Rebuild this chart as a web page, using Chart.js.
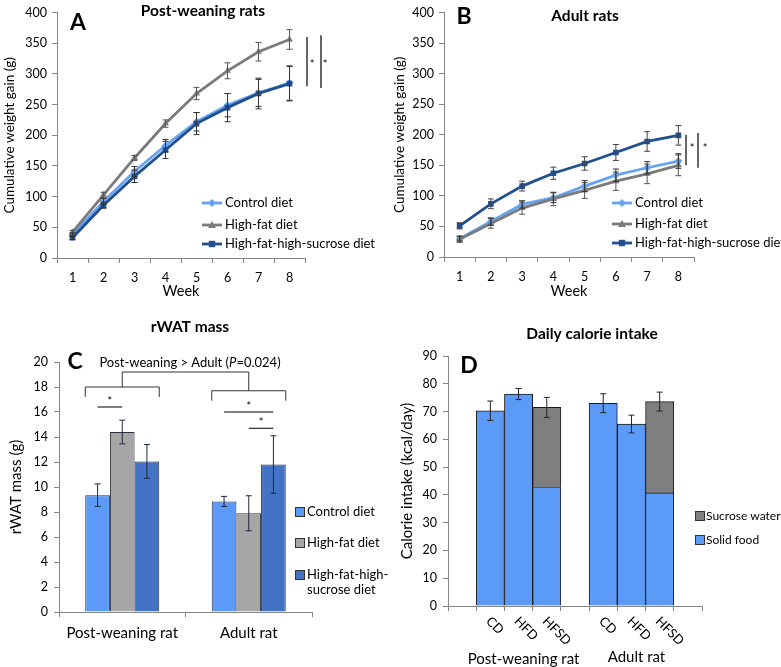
<!DOCTYPE html>
<html><head><meta charset="utf-8">
<script src="https://cdn.jsdelivr.net/npm/chart.js@4.4.1/dist/chart.umd.min.js"></script>
<style>
body{margin:0;background:#fff;}
#wrap{position:relative;width:781px;height:667px;background:#fff;overflow:hidden;}
canvas{position:absolute;}
</style></head><body>
<div id="wrap">
<canvas id="cA" width="390" height="300" style="left:0;top:0"></canvas>
<canvas id="cB" width="391" height="300" style="left:390px;top:0"></canvas>
<canvas id="cC" width="390" height="367" style="left:0;top:300px"></canvas>
<canvas id="cD" width="391" height="367" style="left:390px;top:300px"></canvas>
</div>
<script>
// ---------- DATA ----------
const weeks = ['1','2','3','4','5','6','7','8'];
const dietNames = ['Control diet','High-fat diet','High-fat-high-sucrose diet'];
const weightTicks = [0,50,100,150,200,250,300,350,400];

const aControl    = [38, 92, 141, 183, 222, 249, 269, 285];
const aControlErr = [3, 5, 8, 10, 15, 19, 22, 28];
const aHighFat    = [42, 103, 163, 219, 268, 305, 336, 356];
const aHighFatErr = [3, 4, 4, 6, 10, 13, 15, 16];
const aHFHS       = [33, 86, 133, 176, 219, 245, 268, 284];
const aHFHSErr    = [3, 5, 10, 14, 18, 23, 25, 28];

const bControl    = [30, 58, 86, 97, 116, 134, 146, 157];
const bControlErr = [4, 6, 6, 8, 9, 10, 10, 12];
const bHighFat    = [29, 55, 80, 95, 109, 124, 136, 150];
const bHighFatErr = [5, 8, 10, 11, 13, 15, 16, 17];
const bHFHS       = [51, 87, 116, 137, 153, 171, 189, 199];
const bHFHSErr    = [5, 8, 8, 10, 11, 13, 16, 16];

const ageGroups   = ['Post-weaning rat','Adult rat'];
const cControl    = [9.35, 8.85];
const cControlErr = [0.9, 0.4];
const cHighFat    = [14.4, 7.9];
const cHighFatErr = [0.95, 1.4];
const cHFHS       = [12.05, 11.8];
const cHFHSErr    = [1.35, 2.3];

const dietCodes = ['', 'CD', 'HFD', 'HFSD', '', 'CD', 'HFD', 'HFSD', ''];
const dSolid    = [null, 70.3, 76.3, 42.9, null, 73.0, 65.5, 40.7, null];
const dSucrose  = [null, null, null, 28.6, null, null, null, 32.9, null];
const dErr      = [null, 3.5, 2.0, 3.6, null, 3.4, 3.2, 3.4, null];
const intakeNames = ['Solid food', 'Sucrose water'];

// ---------- STYLE ----------
const FF = 'Lato, "Liberation Sans", sans-serif';
Chart.defaults.font.family = FF;
Chart.defaults.color = '#000';
const AX = '#868686';
const colControlLine = '#67a3f3';
const colHFLine = '#7b7b7b';
const colHFHSLine = '#22508f';
const colBarControl = '#5b9bf7';
const colBarHF = '#a6a6a6';
const colBarHFHS = '#4472c4';
const colSucrose = '#7f7f7f';

function text(ctx, s, x, y, font, align){
  ctx.save(); ctx.font = font; ctx.fillStyle = '#000';
  ctx.textAlign = align || 'center'; ctx.textBaseline = 'middle';
  ctx.fillText(s, x, y); ctx.restore();
}
function line(ctx, pts, color, w){
  ctx.save(); ctx.strokeStyle = color || '#000'; ctx.lineWidth = w || 1;
  ctx.beginPath(); ctx.moveTo(pts[0][0], pts[0][1]);
  for (let i = 1; i < pts.length; i++) ctx.lineTo(pts[i][0], pts[i][1]);
  ctx.stroke(); ctx.restore();
}
function marker(ctx, style, x, y, r, color){
  ctx.save(); ctx.fillStyle = color; ctx.beginPath();
  if (style === 'rectRot'){ ctx.moveTo(x, y-r); ctx.lineTo(x+r, y); ctx.lineTo(x, y+r); ctx.lineTo(x-r, y); }
  else if (style === 'triangle'){ ctx.moveTo(x, y-r); ctx.lineTo(x+r, y+r*0.75); ctx.lineTo(x-r, y+r*0.75); }
  else { ctx.rect(x-r*0.8, y-r*0.8, r*1.6, r*1.6); }
  ctx.closePath(); ctx.fill(); ctx.restore();
}
function drawErrors(chart, specs, cap){
  const ctx = chart.ctx, ys = chart.scales.y;
  specs.forEach(sp => {
    const meta = chart.getDatasetMeta(sp.ds);
    sp.err.forEach((e, j) => {
      if (e == null || sp.val[j] == null) return;
      const x = meta.data[j].x;
      const y1 = ys.getPixelForValue(sp.val[j] + e), y2 = ys.getPixelForValue(sp.val[j] - e);
      ctx.save(); ctx.strokeStyle = sp.color; ctx.lineWidth = 1;
      ctx.beginPath();
      ctx.moveTo(x, y1); ctx.lineTo(x, y2);
      ctx.moveTo(x-cap, y1); ctx.lineTo(x+cap, y1);
      ctx.moveTo(x-cap, y2); ctx.lineTo(x+cap, y2);
      ctx.stroke(); ctx.restore();
    });
  });
}

function lineScales(yW, xH, yTitle){
  return {
    x: { type:'category', offset:true,
      grid:{ offset:true, drawOnChartArea:false, drawTicks:true, tickLength:5, color:AX },
      border:{ color:AX },
      ticks:{ font:{size:12.5}, padding:7, color:'#000' },
      title:{ display:true, text:'Week', font:{size:14.5}, padding:{top:0,bottom:0}, color:'#000' },
      afterFit: s => { s.height = xH; } },
    y: { min:0, max:400,
      afterBuildTicks: s => { s.ticks = weightTicks.map(v => ({value:v})); },
      grid:{ drawOnChartArea:false, drawTicks:true, tickLength:5, color:AX },
      border:{ color:AX },
      ticks:{ font:{size:12.5}, padding:5, color:'#000' },
      title:{ display:true, text:yTitle, font:{size:13.5}, padding:{top:2,bottom:0}, color:'#000' },
      afterFit: s => { s.width = yW; } }
  };
}
function lineDatasets(c, h, s){
  const mk = (label, data, col, ps, order) => ({ label, data, borderColor:col, backgroundColor:col,
    borderWidth:2.8, pointStyle:ps, pointRadius:4, pointBorderWidth:0, tension:0, order });
  return [mk(dietNames[0], c, colControlLine, 'rectRot', 2),
          mk(dietNames[1], h, colHFLine, 'triangle', 1),
          mk(dietNames[2], s, colHFHSLine, 'rect', 0)];
}
function lineLegend(ctx, x0, ys){
  const cols = [colControlLine, colHFLine, colHFHSLine], st = ['rectRot','triangle','rect'];
  dietNames.forEach((n, i) => {
    line(ctx, [[x0, ys[i]], [x0+20, ys[i]]], cols[i], 2.8);
    marker(ctx, st[i], x0+10, ys[i], 4, cols[i]);
    text(ctx, n, x0+23, ys[i], '13px ' + FF, 'left');
  });
}

// ---------- A ----------
new Chart(document.getElementById('cA'), {
  type:'line',
  data:{ labels:weeks, datasets:lineDatasets(aControl, aHighFat, aHFHS) },
  options:{ responsive:false, animation:false,
    layout:{ padding:{left:0, right:85, top:6, bottom:0} },
    plugins:{ legend:{display:false}, tooltip:{enabled:false} },
    scales: lineScales(57, 42, 'Cumulative weight gain (g)') },
  plugins:[{ id:'annA', afterDatasetsDraw(chart){
    const ctx = chart.ctx, ys = chart.scales.y, ca = chart.chartArea;
    drawErrors(chart, [
      {ds:1, val:aHighFat, err:aHighFatErr, color:'#555'},
      {ds:0, val:aControl, err:aControlErr, color:'#333'},
      {ds:2, val:aHFHS, err:aHFHSErr, color:'#333'}], 3);
    text(ctx, 'Post-weaning rats', 203, 11, 'bold 15.5px ' + FF);
    text(ctx, 'A', 78, 23, 'bold 23px ' + FF);
    line(ctx, [[ca.right+2, ys.getPixelForValue(360)], [ca.right+2, ys.getPixelForValue(280)]], '#000', 1.2);
    line(ctx, [[ca.right+16, ys.getPixelForValue(363)], [ca.right+16, ys.getPixelForValue(277)]], '#000', 1.2);
    text(ctx, '*', ca.right+7, ys.getPixelForValue(316), '11px ' + FF);
    text(ctx, '*', ca.right+20, ys.getPixelForValue(316), '11px ' + FF);
    lineLegend(ctx, 202, [203, 225, 244]);
  }}]
});

// ---------- B ----------
new Chart(document.getElementById('cB'), {
  type:'line',
  data:{ labels:weeks, datasets:lineDatasets(bControl, bHighFat, bHFHS) },
  options:{ responsive:false, animation:false,
    layout:{ padding:{left:0, right:87, top:7, bottom:0} },
    plugins:{ legend:{display:false}, tooltip:{enabled:false} },
    scales: lineScales(54, 43, 'Cumulative weight gain (g)') },
  plugins:[{ id:'annB', afterDatasetsDraw(chart){
    const ctx = chart.ctx, ys = chart.scales.y, ca = chart.chartArea;
    drawErrors(chart, [
      {ds:1, val:bHighFat, err:bHighFatErr, color:'#555'},
      {ds:0, val:bControl, err:bControlErr, color:'#333'},
      {ds:2, val:bHFHS, err:bHFHSErr, color:'#444'}], 3);
    text(ctx, 'Adult rats', 195, 16, 'bold 15.5px ' + FF);
    text(ctx, 'B', 74, 17, 'bold 23px ' + FF);
    line(ctx, [[ca.right-8, ys.getPixelForValue(200)], [ca.right-8, ys.getPixelForValue(150)]], '#000', 1.2);
    line(ctx, [[ca.right+4, ys.getPixelForValue(203)], [ca.right+4, ys.getPixelForValue(146)]], '#000', 1.2);
    text(ctx, '*', ca.right-2, ys.getPixelForValue(177), '11px ' + FF);
    text(ctx, '*', ca.right+11, ys.getPixelForValue(177), '11px ' + FF);
    lineLegend(ctx, 222, [203, 224, 243]);
  }}]
});

// ---------- C ----------
new Chart(document.getElementById('cC'), {
  type:'bar',
  data:{ labels:ageGroups, datasets:[
    {label:dietNames[0], data:cControl, backgroundColor:colBarControl},
    {label:dietNames[1], data:cHighFat, backgroundColor:colBarHF},
    {label:dietNames[2], data:cHFHS, backgroundColor:colBarHFHS}
  ].map(d => Object.assign(d, {borderColor:'#2b2f3a', borderWidth:1, borderSkipped:'start', categoryPercentage:0.585, barPercentage:1})) },
  options:{ responsive:false, animation:false,
    layout:{ padding:{left:0, right:78, top:62, bottom:0} },
    plugins:{ legend:{display:false}, tooltip:{enabled:false} },
    scales:{
      x:{ grid:{ offset:true, drawOnChartArea:false, tickLength:5, color:AX }, border:{color:AX},
        ticks:{ font:{size:15}, padding:7, color:'#000' }, afterFit: s => { s.height = 55; } },
      y:{ min:0, max:20, ticks:{ stepSize:2, font:{size:12.5}, padding:6, color:'#000' },
        grid:{ drawOnChartArea:false, tickLength:5, color:AX }, border:{color:AX},
        title:{ display:true, text:'rWAT mass (g)', font:{size:15}, padding:{top:7,bottom:0}, color:'#000' },
        afterFit: s => { s.width = 59; } }
    } },
  plugins:[{ id:'annC', afterDatasetsDraw(chart){
    const ctx = chart.ctx, ys = chart.scales.y, Y = v => ys.getPixelForValue(v);
    drawErrors(chart, [
      {ds:0, val:cControl, err:cControlErr, color:'#1f2740'},
      {ds:1, val:cHighFat, err:cHighFatErr, color:'#1f2740'},
      {ds:2, val:cHFHS, err:cHFHSErr, color:'#1f2740'}], 3);
    const m0 = chart.getDatasetMeta(0).data, m1 = chart.getDatasetMeta(1).data, m2 = chart.getDatasetMeta(2).data;
    const bw = m0[0].width;
    text(ctx, 'rWAT mass', 190, 27, 'bold 15.5px ' + FF);
    text(ctx, 'C', 75, 62, 'bold 23px ' + FF);
    // comparison title with italic P
    const parts = [['Post-weaning > Adult (', '13px '], ['P', 'italic 13px '], ['=0.024)', '13px ']];
    ctx.save(); let tw = 0;
    parts.forEach(p => { ctx.font = p[1] + FF; tw += ctx.measureText(p[0]).width; });
    let tx = 190 - tw/2;
    parts.forEach(p => { ctx.font = p[1] + FF; text(ctx, p[0], tx, 63, p[1] + FF, 'left'); tx += ctx.measureText(p[0]).width; });
    ctx.restore();
    // group brackets
    const pL = m0[0].x - bw/2, pR = m2[0].x + bw/2, aL = m0[1].x - bw/2, aR = m2[1].x + bw/2;
    line(ctx, [[pL, Y(17.2)], [pL, Y(18)], [pR, Y(18)], [pR, Y(17.2)]], '#333', 1);
    line(ctx, [[aL, Y(16.9)], [aL, Y(17.7)], [aR, Y(17.7)], [aR, Y(16.9)]], '#333', 1);
    const pc = (pL+pR)/2, ac = (aL+aR)/2;
    line(ctx, [[pc, Y(18)], [pc, Y(19.2)], [ac, Y(19.2)], [ac, Y(17.7)]], '#333', 1);
    // significance
    line(ctx, [[m0[0].x, Y(16.4)], [m1[0].x, Y(16.4)]], '#000', 1);
    text(ctx, '*', (m0[0].x + m1[0].x)/2, Y(16.85), '11px ' + FF);
    line(ctx, [[m0[1].x, Y(16.0)], [m2[1].x, Y(16.0)]], '#000', 1);
    text(ctx, '*', (m0[1].x + m2[1].x)/2, Y(16.45), '11px ' + FF);
    line(ctx, [[m1[1].x, Y(14.7)], [m2[1].x, Y(14.7)]], '#000', 1);
    text(ctx, '*', (m1[1].x + m2[1].x)/2, Y(15.15), '11px ' + FF);
    // legend
    const cols = [colBarControl, colBarHF, colBarHFHS];
    const ly = [212, 243, 275];
    cols.forEach((c, i) => {
      ctx.save(); ctx.fillStyle = c; ctx.strokeStyle = '#333'; ctx.lineWidth = 1;
      ctx.fillRect(295.5, ly[i]-4.5, 9, 9); ctx.strokeRect(295.5, ly[i]-4.5, 9, 9); ctx.restore();
    });
    text(ctx, dietNames[0], 307, ly[0], '13px ' + FF, 'left');
    text(ctx, dietNames[1], 307, ly[1], '13px ' + FF, 'left');
    text(ctx, 'High-fat-high-', 307, ly[2], '13px ' + FF, 'left');
    text(ctx, 'sucrose diet', 307, ly[2] + 15, '13px ' + FF, 'left');
  }}]
});

// ---------- D ----------
const dTotal = dSolid.map((v, i) => v == null ? null : v + (dSucrose[i] || 0));
new Chart(document.getElementById('cD'), {
  type:'bar',
  data:{ labels:dietCodes, datasets:[
    {label:intakeNames[0], data:dSolid, backgroundColor:colBarControl},
    {label:intakeNames[1], data:dSucrose, backgroundColor:colSucrose}
  ].map(d => Object.assign(d, {borderColor:'#1a1a1a', borderWidth:1, borderSkipped:'start', categoryPercentage:1, barPercentage:1})) },
  options:{ responsive:false, animation:false,
    layout:{ padding:{left:0, right:79, top:56, bottom:0} },
    plugins:{ legend:{display:false}, tooltip:{enabled:false} },
    scales:{
      x:{ stacked:true, grid:{ offset:true, drawOnChartArea:false, tickLength:5, color:AX }, border:{color:AX},
        ticks:{ display:false }, afterFit: s => { s.height = 61; } },
      y:{ stacked:true, min:0, max:90, ticks:{ stepSize:10, font:{size:12.5}, padding:6, color:'#000' },
        grid:{ drawOnChartArea:false, tickLength:5, color:AX }, border:{color:AX},
        title:{ display:true, text:'Calorie intake (kcal/day)', font:{size:15}, padding:{top:8,bottom:0}, color:'#000' },
        afterFit: s => { s.width = 58; } }
    } },
  plugins:[{ id:'annD', afterDatasetsDraw(chart){
    const ctx = chart.ctx, xs = chart.scales.x;
    drawErrors(chart, [{ds:0, val:dTotal, err:dErr, color:'#222'}], 3);
    text(ctx, 'Daily calorie intake', 202, 34, 'bold 15.5px ' + FF);
    text(ctx, 'D', 79, 66, 'bold 23px ' + FF);
    dietCodes.forEach((lab, i) => {
      if (!lab) return;
      ctx.save(); ctx.translate(xs.getPixelForValue(i) - 2, xs.top + 13); ctx.rotate(Math.PI/4);
      ctx.font = '13px ' + FF; ctx.fillStyle = '#000'; ctx.textAlign = 'left'; ctx.textBaseline = 'middle';
      ctx.fillText(lab, 0, 0); ctx.restore();
    });
    text(ctx, ageGroups[0], xs.getPixelForValue(2) + 5, 359, '15px ' + FF);
    text(ctx, ageGroups[1], xs.getPixelForValue(6) + 5, 357, '15px ' + FF);
    const items = [[intakeNames[1], colSucrose, 216], [intakeNames[0], colBarControl, 240]];
    items.forEach(it => {
      ctx.save(); ctx.fillStyle = it[1]; ctx.strokeStyle = '#333'; ctx.lineWidth = 1;
      ctx.fillRect(305.5, it[2]-4.5, 9, 9); ctx.strokeRect(305.5, it[2]-4.5, 9, 9); ctx.restore();
      text(ctx, it[0], 316, it[2], '12px ' + FF, 'left');
    });
  }}]
});
</script>
</body></html>
